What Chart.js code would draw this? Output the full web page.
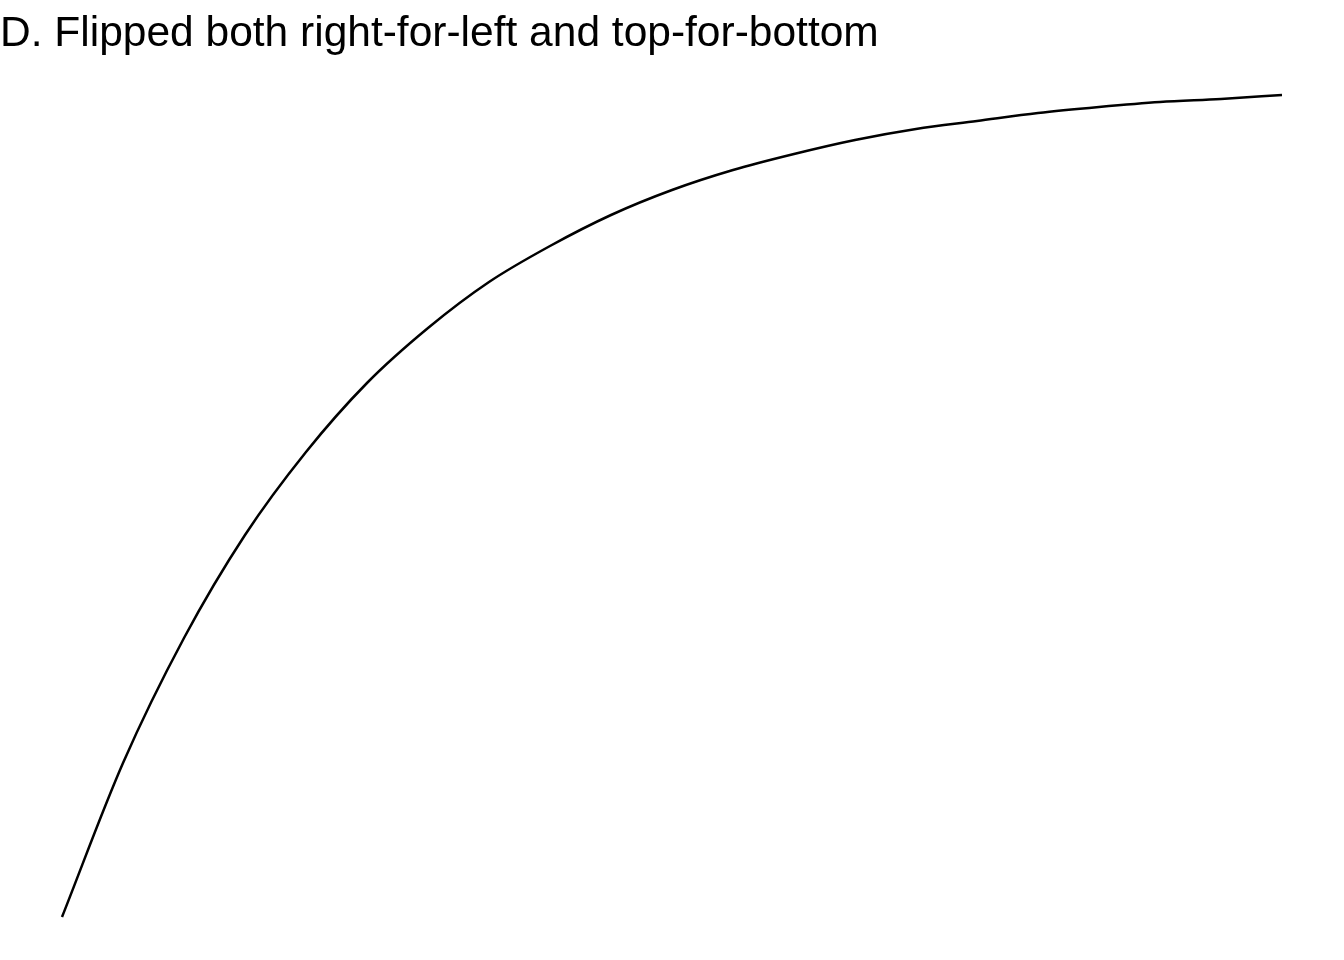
<!DOCTYPE html>
<html>
<head>
<meta charset="utf-8">
<script src="https://cdn.jsdelivr.net/npm/chart.js@4"></script>
<style>
  html, body { margin: 0; padding: 0; background: #fff; }
  #wrap { position: relative; width: 1344px; height: 960px; }
  #title {
    position: absolute; left: 0; top: 7px;
    font-family: "Liberation Sans", Arial, sans-serif; font-size: 42.5px; color: #000;
    line-height: 50px; white-space: nowrap;
  }
</style>
</head>
<body>
<div id="wrap">
  <canvas id="curveChart" width="1344" height="960"></canvas>
  <div id="title">D. Flipped both right-for-left and top-for-bottom</div>
</div>
<script>
// values
const xValues = [0, 61, 122, 183, 244, 305, 366, 427, 488, 549, 610,
                 671, 732, 793, 854, 915, 976, 1037, 1098, 1159, 1220];
const yValues = [0, 154, 279, 382, 465, 534, 589, 635, 671, 702, 727,
                 747, 763, 777, 788, 796, 804, 810, 815, 818, 822];

const points = xValues.map((x, i) => ({ x: x, y: yValues[i] }));

new Chart(document.getElementById("curveChart"), {
    type: "line",
    data: {
        datasets: [{
            data: points,
            borderColor: "#000",
            borderWidth: 2.5,
            pointRadius: 0,
            cubicInterpolationMode: "monotone",
            fill: false,
            clip: false
        }]
    },
    options: {
        responsive: false,
        animation: false,
        layout: { padding: { left: 62, right: 62, top: 95, bottom: 43 } },
        scales: {
            x: { type: "linear", display: false, min: 0, max: 1220 },
            y: { display: false, min: 0, max: 822 }
        },
        plugins: { legend: { display: false }, tooltip: { enabled: false } }
    }
});
</script>
</body>
</html>
